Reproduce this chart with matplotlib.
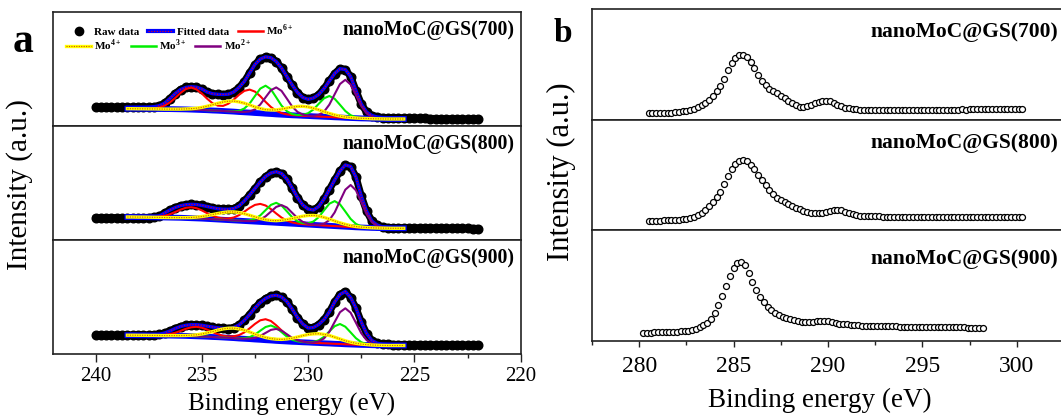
import numpy as np
import matplotlib.pyplot as plt
from matplotlib.lines import Line2D
from matplotlib.ticker import MultipleLocator

plt.rcParams['font.family'] = 'Liberation Serif'
plt.rcParams['mathtext.fontset'] = 'custom'
plt.rcParams['mathtext.rm'] = 'Liberation Serif'
plt.rcParams['mathtext.bf'] = 'Liberation Serif:bold'

samples = ['nanoMoC@GS(700)', 'nanoMoC@GS(800)', 'nanoMoC@GS(900)']

# ---- Mo 3d, raw spectra: 240 -> 222 eV, 0.25 eV step ----
mo_energy = np.linspace(240.0, 222.0, 73)
mo_raw_700 = [18.7, 18.7, 18.6, 18.7, 18.7, 18.6, 18.7, 18.7, 18.8, 18.8, 18.9,
              19.3, 20.3, 22.8, 27.5, 32.5, 36.5, 38.6, 39.3, 38.8, 37.0,
              34.0, 32.3, 31.7, 31.5, 31.8, 34.0, 38.5, 44.5, 53.0, 61.5,
              67.0, 69.2, 68.3, 64.5, 58.0, 49.5, 41.0, 33.5, 28.5, 26.7,
              28.0, 31.5, 37.5, 45.0, 52.5, 57.3, 56.5, 49.5, 35.5, 22.0,
              14.0, 10.5, 9.0, 8.5, 8.3, 8.2, 8.1, 8.0, 7.9, 7.8,
              7.7, 7.6, 7.5, 7.4, 7.3, 7.2, 7.1, 7.0, 6.9, 6.8, 6.7, 6.6]
mo_raw_800 = [22.3, 22.3, 22.2, 22.3, 22.3, 22.2, 22.3, 22.3, 22.4, 22.4, 22.5,
              22.8, 24.0, 27.0, 30.0, 32.5, 34.3, 35.3, 35.7, 35.4, 34.6,
              33.5, 32.3, 31.3, 30.8, 30.7, 31.5, 34.0, 39.0, 45.0, 51.5,
              58.0, 63.5, 67.0, 68.3, 66.5, 61.0, 52.0, 42.5, 35.0, 31.0,
              30.0, 33.5, 41.0, 50.5, 60.0, 69.0, 75.0, 73.5, 63.0, 44.0,
              29.0, 19.0, 15.0, 13.0, 12.5, 12.3, 12.2, 12.2, 12.1, 12.1,
              12.0, 12.0, 11.9, 11.9, 11.8, 11.8, 11.7, 11.7, 11.6, 11.6, 11.5, 11.5]
mo_raw_900 = [18.7, 18.7, 18.6, 18.7, 18.7, 18.6, 18.7, 18.7, 18.7, 18.8, 18.8,
              19.0, 19.7, 21.0, 23.0, 25.5, 27.5, 28.7, 29.3, 29.3, 28.7,
              27.8, 27.0, 26.2, 25.6, 25.5, 26.5, 29.0, 33.7, 39.5, 46.0,
              51.5, 55.5, 58.0, 58.7, 57.0, 52.5, 45.0, 36.5, 30.0, 26.0,
              26.5, 29.5, 34.5, 42.0, 52.0, 59.5, 62.5, 56.5, 46.0, 32.0,
              20.5, 13.5, 10.8, 9.8, 9.6, 9.5, 9.5, 9.4, 9.4, 9.3,
              9.3, 9.2, 9.2, 9.1, 9.1, 9.0, 9.0, 8.9, 8.9, 8.8, 8.8, 8.7]

# ---- Mo 3d fit window: 238.5 -> 225.5 eV, 0.25 eV step ----
fit_energy = np.linspace(238.5, 225.5, 53)
fit_slice = slice(6, 59)

bg_700 = [17.3, 17.3, 17.2, 17.2, 17.1, 17.1, 17.0, 16.9, 16.9, 16.8, 16.7,
          16.6, 16.4, 16.2, 16.0, 15.8, 15.5, 15.3, 15.0, 14.7, 14.4,
          14.0, 13.7, 13.4, 13.0, 12.7, 12.3, 12.0, 11.6, 11.3, 11.0,
          10.7, 10.5, 10.2, 10.0, 9.7, 9.5, 9.2, 9.0, 8.7, 8.5,
          8.2, 8.0, 7.8, 7.6, 7.5, 7.3, 7.2, 7.1, 7.0, 7.0, 7.0, 7.0]
bg_800 = [23.0, 23.0, 22.9, 22.9, 22.8, 22.7, 22.6, 22.5, 22.4, 22.3, 22.2,
          22.0, 21.8, 21.6, 21.4, 21.1, 20.8, 20.5, 20.2, 19.9, 19.6,
          19.3, 19.0, 18.7, 18.4, 18.1, 17.8, 17.5, 17.2, 16.9, 16.6,
          16.3, 16.0, 15.7, 15.4, 15.1, 14.8, 14.5, 14.2, 13.9, 13.6,
          13.3, 13.0, 12.7, 12.5, 12.3, 12.1, 12.0, 11.9, 11.8, 11.7, 11.7, 11.7]
bg_900 = [18.8, 18.8, 18.7, 18.7, 18.6, 18.6, 18.5, 18.4, 18.4, 18.3, 18.2,
          18.1, 17.9, 17.7, 17.5, 17.3, 17.0, 16.8, 16.5, 16.2, 15.9,
          15.5, 15.2, 14.9, 14.5, 14.2, 13.8, 13.5, 13.1, 12.8, 12.5,
          12.2, 12.0, 11.7, 11.5, 11.2, 11.0, 10.7, 10.5, 10.2, 10.0,
          9.7, 9.5, 9.3, 9.1, 9.0, 8.8, 8.7, 8.6, 8.5, 8.5, 8.5, 8.5]

# component heights above the background
mo6_700 = [0, 0, 0, 0.1, 0.2, 0.6, 1.5, 3.5, 6.7, 11.3, 16.4,
           20.4, 22.0, 20.4, 16.5, 11.5, 7.3, 5.1, 5.1, 7.6, 12.0,
           17.2, 21.4, 23.0, 21.4, 17.1, 11.8, 7.0, 3.6, 1.6, 0.6,
           0.2, 0.1, 0, 0, 0, 0, 0, 0, 0, 0,
           0, 0, 0, 0, 0, 0, 0, 0, 0, 0, 0, 0]
mo4_700 = [0, 0, 0, 0, 0, 0, 0, 0, 0, 0.1, 0.2,
           0.5, 0.9, 1.6, 2.6, 4.0, 5.7, 7.4, 9.0, 10.1, 10.5,
           10.1, 9.1, 7.6, 6.1, 4.8, 4.0, 4.0, 4.5, 5.6, 6.9,
           8.2, 9.1, 9.5, 9.1, 8.1, 6.7, 5.1, 3.6, 2.4, 1.4,
           0.8, 0.4, 0.2, 0.1, 0, 0, 0, 0, 0, 0, 0, 0]
mo3_700 = [0, 0, 0, 0, 0, 0, 0, 0, 0, 0, 0,
           0, 0, 0, 0, 0, 0, 0, 0, 0.1, 0.3,
           1.2, 3.8, 9.1, 17.0, 24.7, 28.0, 24.7, 17.0, 9.1, 3.8,
           1.2, 0.5, 1.0, 2.8, 6.8, 12.7, 18.5, 21.0, 18.5, 12.7,
           6.8, 2.8, 0.9, 0.2, 0, 0, 0, 0, 0, 0, 0, 0]
mo2_700 = [0, 0, 0, 0, 0, 0, 0, 0, 0, 0, 0,
           0, 0, 0, 0, 0, 0, 0, 0, 0, 0,
           0.1, 0.3, 1.2, 3.6, 8.8, 16.4, 23.8, 27.0, 23.8, 16.4,
           8.8, 3.6, 1.2, 0.4, 0.4, 1.7, 5.1, 12.4, 23.1, 33.5,
           38.0, 33.5, 23.1, 12.4, 5.1, 1.7, 0.4, 0.1, 0, 0, 0, 0]

mo6_800 = [0, 0, 0, 0, 0.1, 0.3, 0.8, 1.7, 3.4, 5.7, 8.2,
           10.2, 11.0, 10.2, 8.2, 5.7, 3.5, 1.9, 1.3, 1.6, 2.9,
           5.5, 9.3, 13.4, 16.7, 18.0, 16.7, 13.4, 9.3, 5.5, 2.8,
           1.3, 0.5, 0.2, 0, 0, 0, 0, 0, 0, 0,
           0, 0, 0, 0, 0, 0, 0, 0, 0, 0, 0, 0]
mo4_800 = [0, 0, 0, 0, 0, 0, 0, 0, 0, 0.1, 0.2,
           0.4, 0.7, 1.3, 2.1, 3.2, 4.6, 6.0, 7.3, 8.2, 8.5,
           8.2, 7.3, 6.0, 4.7, 3.4, 2.5, 2.1, 2.1, 2.8, 3.8,
           5.2, 6.7, 8.1, 9.1, 9.5, 9.1, 8.1, 6.7, 5.1, 3.6,
           2.4, 1.4, 0.8, 0.4, 0.2, 0.1, 0, 0, 0, 0, 0, 0]
mo3_800 = [0, 0, 0, 0, 0, 0, 0, 0, 0, 0, 0,
           0, 0, 0, 0, 0, 0, 0, 0, 0, 0,
           0, 0.2, 0.9, 2.7, 6.5, 12.1, 17.6, 20.0, 17.6, 12.1,
           6.5, 2.7, 1.2, 1.3, 3.4, 8.1, 15.2, 22.1, 25.0, 22.1,
           15.2, 8.1, 3.4, 1.1, 0.3, 0, 0, 0, 0, 0, 0, 0]
mo2_800 = [0, 0, 0, 0, 0, 0, 0, 0, 0, 0, 0,
           0, 0, 0, 0, 0, 0, 0, 0, 0, 0,
           0, 0, 0.2, 0.8, 2.4, 5.9, 10.9, 15.9, 18.0, 15.9,
           10.9, 5.9, 2.4, 0.8, 0.3, 0.5, 1.8, 5.7, 13.7, 25.5,
           37.0, 42.0, 37.0, 25.5, 13.7, 5.7, 1.8, 0.5, 0.1, 0, 0, 0]

mo6_900 = [0, 0, 0, 0, 0, 0.1, 0.3, 0.7, 1.5, 2.9, 4.9,
           7.1, 8.8, 9.5, 8.8, 7.1, 4.9, 3.0, 1.7, 1.3, 1.8,
           3.4, 6.4, 10.8, 15.6, 19.5, 21.0, 19.5, 15.6, 10.8, 6.4,
           3.3, 1.5, 0.6, 0.2, 0, 0, 0, 0, 0, 0,
           0, 0, 0, 0, 0, 0, 0, 0, 0, 0, 0, 0]
mo4_900 = [0, 0, 0, 0, 0, 0, 0, 0, 0, 0.1, 0.2,
           0.4, 0.9, 1.5, 2.5, 3.8, 5.4, 7.1, 8.6, 9.6, 10.0,
           9.6, 8.6, 7.1, 5.4, 3.9, 2.7, 1.9, 1.7, 1.8, 2.5,
           3.6, 5.0, 6.6, 8.0, 8.9, 9.3, 8.9, 8.0, 6.6, 5.0,
           3.5, 2.3, 1.4, 0.8, 0.4, 0.2, 0.1, 0, 0, 0, 0, 0]
mo3_900 = [0, 0, 0, 0, 0, 0, 0, 0, 0, 0, 0,
           0, 0, 0, 0, 0, 0, 0, 0, 0, 0,
           0.2, 0.7, 2.0, 4.9, 9.1, 13.2, 15.0, 13.2, 9.1, 4.9,
           2.0, 0.7, 0.2, 0.2, 0.9, 2.7, 6.5, 12.1, 17.6, 20.0,
           17.6, 12.1, 6.5, 2.7, 0.9, 0.2, 0, 0, 0, 0, 0, 0]
mo2_900 = [0, 0, 0, 0, 0, 0, 0, 0, 0, 0, 0,
           0, 0, 0, 0, 0, 0, 0, 0, 0, 0,
           0, 0.1, 0.5, 1.6, 3.9, 7.3, 10.6, 12.0, 10.6, 7.3,
           3.9, 1.6, 0.5, 0.2, 0.4, 1.6, 4.9, 11.7, 21.9, 31.8,
           36.0, 31.8, 21.9, 11.7, 4.9, 1.6, 0.4, 0.1, 0, 0, 0, 0]

# ---- C 1s spectra, 0.2 eV step ----
c1s_energy_700 = np.linspace(280.5, 300.3, 100)
c1s_700 = [6.2, 6.3, 6.4, 6.5, 6.7, 6.9, 7.1, 7.4, 7.8, 8.3,
           8.9, 9.8, 11.0, 12.4, 14.3, 16.7, 19.6, 23.5, 28.3, 34.0,
           41.0, 50.0, 57.0, 62.0, 64.5, 65.2, 63.0, 58.0, 51.5, 44.5,
           38.5, 34.3, 31.0, 28.5, 26.5, 24.0, 21.5, 18.8, 16.5, 14.5,
           13.2, 12.8, 13.5, 15.0, 16.5, 17.8, 18.8, 19.2, 18.5, 16.8,
           15.0, 13.3, 12.0, 11.3, 10.7, 10.2, 9.8, 9.5, 9.4, 9.4,
           9.3, 9.4, 9.5, 9.4, 9.5, 9.6, 9.5, 9.5, 9.6, 9.7,
           9.6, 9.7, 9.8, 9.7, 9.8, 9.9, 9.8, 9.9, 10.0, 9.9,
           10.0, 10.1, 10.1, 10.2, 10.1, 10.2, 10.3, 10.3, 10.4, 10.4,
           10.5, 10.4, 10.5, 10.6, 10.6, 10.7, 10.7, 10.8, 10.8, 10.9]
c1s_energy_800 = np.linspace(280.5, 300.3, 100)
c1s_800 = [9.5, 9.6, 9.7, 9.8, 10.0, 10.1, 10.3, 10.5, 10.8, 11.2,
           11.8, 12.6, 13.7, 15.2, 17.5, 20.5, 24.0, 28.0, 33.0, 38.5,
           46.0, 54.5, 61.5, 66.8, 69.5, 70.5, 69.0, 65.5, 61.0, 55.5,
           50.0, 45.0, 40.2, 36.0, 32.8, 30.0, 28.0, 26.0, 24.3, 22.5,
           21.0, 19.6, 18.6, 17.8, 17.3, 17.2, 17.4, 18.0, 19.0, 20.0,
           20.5, 20.0, 18.8, 17.3, 16.2, 15.3, 14.7, 14.4, 14.2, 14.0,
           13.9, 13.9, 13.8, 13.8, 13.7, 13.8, 13.7, 13.7, 13.6, 13.7,
           13.7, 13.6, 13.6, 13.7, 13.6, 13.6, 13.5, 13.6, 13.6, 13.5,
           13.6, 13.5, 13.5, 13.6, 13.5, 13.5, 13.6, 13.5, 13.5, 13.6,
           13.6, 13.5, 13.6, 13.6, 13.7, 13.6, 13.7, 13.7, 13.8, 13.8]
c1s_energy_900 = np.linspace(280.2, 298.2, 91)
c1s_900 = [8.3, 8.4, 8.5, 8.6, 8.7, 8.8, 8.9, 9.0, 9.2, 9.4,
           9.6, 9.9, 10.4, 11.2, 12.4, 13.9, 15.8, 18.5, 22.5, 28.0,
           36.0, 45.5, 55.0, 65.0, 73.0, 77.8, 79.3, 76.0, 68.5, 59.5,
           51.0, 44.0, 38.8, 34.5, 31.0, 28.3, 26.0, 24.2, 22.8, 21.7,
           20.8, 20.0, 19.5, 19.3, 19.3, 19.5, 19.8, 20.0, 20.0, 19.6,
           18.9, 18.0, 17.4, 17.0, 16.6, 16.3, 16.0, 15.7, 15.4, 15.2,
           15.0, 14.9, 14.9, 14.8, 14.8, 14.7, 14.6, 14.6, 14.5, 14.5,
           14.4, 14.3, 14.3, 14.2, 14.2, 14.1, 14.0, 14.0, 13.9, 13.9,
           13.8, 13.8, 13.7, 13.7, 13.6, 13.6, 13.5, 13.5, 13.4, 13.4, 13.3]

mo_sets = [
    (mo_raw_700, bg_700, mo6_700, mo4_700, mo3_700, mo2_700),
    (mo_raw_800, bg_800, mo6_800, mo4_800, mo3_800, mo2_800),
    (mo_raw_900, bg_900, mo6_900, mo4_900, mo3_900, mo2_900),
]
c1s_sets = [(c1s_energy_700, c1s_700), (c1s_energy_800, c1s_800), (c1s_energy_900, c1s_900)]

FRAME = '#222222'
W, H = 1061, 418


def px_axes(x0, y0, x1, y1):
    # axes rectangle given in pixel coords (origin top-left)
    return fig.add_axes([x0 / W, 1 - y1 / H, (x1 - x0) / W, (y1 - y0) / H])


def style_frame(ax):
    for s in ax.spines.values():
        s.set_color(FRAME)
        s.set_linewidth(1.2)
    ax.set_yticks([])


def mo_plot(ax, raw, bg, mo6, mo4, mo3, mo2, name):
    bg = np.array(bg)
    raw = np.array(raw)
    # raw points are dense enough to merge into a thick band
    ax.plot(mo_energy, raw, color='black', lw=5.2, solid_capstyle='round', zorder=2)
    ax.plot(mo_energy, raw, 'o', color='black', ms=6.2, zorder=2)
    ax.plot(fit_energy, raw[fit_slice], color='blue', lw=2.4, zorder=3)
    ax.plot(fit_energy, raw[fit_slice], color='red', lw=0.8, ls=(0, (1, 1.5)), zorder=3)
    ax.plot(fit_energy, bg, color='blue', lw=4.2, zorder=3)
    ax.plot(fit_energy, bg + np.array(mo6), color='red', lw=1.5, zorder=4)
    ax.plot(fit_energy, bg + np.array(mo3), color='#00ee00', lw=1.5, zorder=4)
    ax.plot(fit_energy, bg + np.array(mo2), color='purple', lw=1.5, zorder=4)
    ax.plot(fit_energy, bg + np.array(mo4), color='yellow', lw=2.4, zorder=5)
    ax.plot(fit_energy, bg + np.array(mo4), color='#d05000', lw=0.8, ls=(0, (1, 1.2)), zorder=5)
    ax.set_xlim(242, 220)
    ax.set_ylim(0, 114)
    style_frame(ax)
    ax.text(0.986, 0.842, name, transform=ax.transAxes, ha='right', va='center',
            fontsize=14.2, fontweight='bold')


def c1s_plot(ax, energy, vals, name, ty):
    ax.plot(energy, vals, 'o', ms=4.3, mfc='white', mec='black', mew=0.9)
    ax.set_xlim(277.5, 302.5)
    ax.set_ylim(0, 110.7)
    style_frame(ax)
    ax.text(0.987, ty, name, transform=ax.transAxes, ha='right', va='center',
            fontsize=15.5, fontweight='bold')


fig = plt.figure(figsize=(10.61, 4.18), dpi=100)

# panel a: Mo 3d
left_rows = [(12, 126), (126, 240), (240, 354)]
mo_axes = []
for (y0, y1), data, name in zip(left_rows, mo_sets, samples):
    ax = px_axes(53, y0, 520.7, y1)
    mo_plot(ax, *data, name)
    mo_axes.append(ax)

for ax in mo_axes[:2]:
    ax.set_xticks([])
axb = mo_axes[2]
axb.xaxis.set_major_locator(MultipleLocator(5))
axb.xaxis.set_minor_locator(MultipleLocator(2.5))
axb.tick_params(axis='x', which='major', direction='out', length=5.8, width=1.0,
                labelsize=15, pad=3.5, color=FRAME)
axb.tick_params(axis='x', which='minor', direction='out', length=3.0, width=1.0, color=FRAME)

# legend on the top Mo 3d axes, two rows
fit_h = (Line2D([], [], color='blue', lw=3.0), Line2D([], [], color='red', lw=0.8, ls=(0, (1, 1.5))))
mo4_h = (Line2D([], [], color='yellow', lw=2.4), Line2D([], [], color='#d05000', lw=0.8, ls=(0, (1, 1.2))))
row1 = [Line2D([], [], ls='none', marker='o', color='black', ms=6), fit_h,
        Line2D([], [], color='red', lw=1.8)]
row2 = [mo4_h, Line2D([], [], color='#00ee00', lw=1.8), Line2D([], [], color='purple', lw=1.8)]
leg_kw = dict(frameon=False, ncol=3, prop={'weight': 'bold', 'size': 8}, handlelength=2.25,
              handletextpad=0.3, columnspacing=0.8, borderpad=0, borderaxespad=0, loc='center left')
top = mo_axes[0]
leg1 = top.legend(row1, ['Raw data', 'Fitted data', r'Mo$^{\mathbf{6+}}$'],
                  bbox_to_anchor=(0.0278, 0.836), **leg_kw)
top.add_artist(leg1)
top.legend(row2, [r'Mo$^{\mathbf{4+}}$', r'Mo$^{\mathbf{3+}}$', r'Mo$^{\mathbf{2+}}$'],
           bbox_to_anchor=(0.0278, 0.711), **leg_kw)

# panel b: C 1s
right_rows = [(9, 119.7), (119.7, 230.3), (230.3, 341)]
title_y = [0.79, 0.79, 0.74]
c_axes = []
for (y0, y1), (en, vals), name, ty in zip(right_rows, c1s_sets, samples, title_y):
    ax = px_axes(592, y0, 1064, y1)
    c1s_plot(ax, en, vals, name, ty)
    c_axes.append(ax)

for ax in c_axes[:2]:
    ax.set_xticks([])
axc = c_axes[2]
axc.xaxis.set_major_locator(MultipleLocator(5))
axc.xaxis.set_minor_locator(MultipleLocator(2.5))
axc.tick_params(axis='x', which='major', direction='out', length=4.5, width=1.0,
                labelsize=17, pad=6.5, color=FRAME)
axc.tick_params(axis='x', which='minor', direction='out', length=3.0, width=1.0, color=FRAME)

# axis titles and panel letters
fig.text(20 / W, 1 - 185 / H, 'Intensity (a.u.)', rotation=90, ha='center', va='center', fontsize=21)
fig.text(561 / W, 1 - 172 / H, 'Intensity (a.u.)', rotation=90, ha='center', va='center', fontsize=22)
fig.text(292 / W, 1 - 404 / H, 'Binding energy (eV)', ha='center', va='center', fontsize=18)
fig.text(820 / W, 1 - 400 / H, 'Binding energy (eV)', ha='center', va='center', fontsize=19.5)
fig.text(13 / W, 1 - 52 / H, 'a', ha='left', va='baseline', fontsize=30, fontweight='bold')
fig.text(554 / W, 1 - 42 / H, 'b', ha='left', va='baseline', fontsize=24, fontweight='bold')

fig.savefig('out.png', dpi=100)
